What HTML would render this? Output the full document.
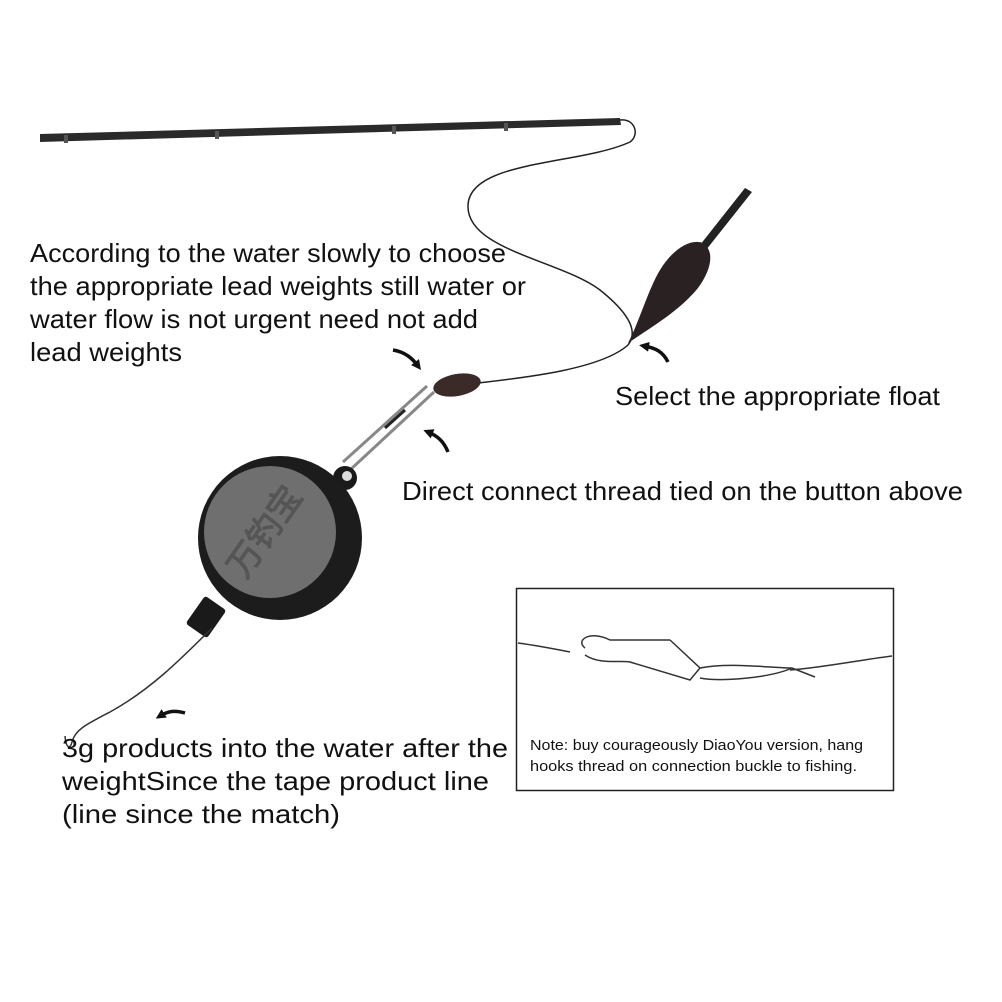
<!DOCTYPE html>
<html><head><meta charset="utf-8"><style>
html,body{margin:0;padding:0;background:#fff;}
svg{display:block;}
text{font-family:"Liberation Sans",sans-serif;fill:#111;}
</style></head><body>
<svg width="1002" height="1002" viewBox="0 0 1002 1002" xmlns="http://www.w3.org/2000/svg">
<defs>
<marker id="ah" markerWidth="10" markerHeight="10" refX="5" refY="5" orient="auto" markerUnits="userSpaceOnUse">
<path d="M0,0 L10,5 L0,10 Z" fill="#111"/></marker>
</defs>
<!-- rod -->
<path d="M40,134 L620,118 L621,125 L40,142 Z" fill="#2a2a2a"/>
<g fill="#555"><rect x="64" y="135" width="4" height="8"/><rect x="215" y="131" width="4" height="8"/><rect x="392" y="126" width="4" height="8"/><rect x="504" y="123" width="4" height="8"/></g>
<!-- line -->
<path d="M620,120 C635,118 640,135 630,142 C580,165 470,160 468,205 C466,250 560,260 600,290 C625,310 640,330 628,345 C600,370 520,378 478,383" fill="none" stroke="#222" stroke-width="1.5"/>
<!-- float -->
<path d="M752,192 L745,188 L700,245 L706,250 Z" fill="#222"/>
<path d="M628,343 C640,320 648,290 660,270 C672,250 690,238 703,243 C716,252 710,272 698,288 C680,310 655,325 628,343 Z" fill="#2a2222"/>
<!-- sinker -->
<ellipse cx="457" cy="385" rx="24" ry="11" transform="rotate(-10 457 385)" fill="#3a2a28"/>
<!-- snap -->
<path d="M434,392 L350,470 M427,386 L343,462" stroke="#888" stroke-width="3" fill="none"/>
<path d="M405,410 L385,428" stroke="#222" stroke-width="3"/>
<circle cx="345" cy="478" r="12" fill="#1a1a1a"/>
<circle cx="347" cy="476" r="5" fill="#ddd"/>
<!-- reel -->
<rect x="193" y="600" width="26" height="34" rx="3" transform="rotate(35 206 617)" fill="#1a1a1a"/>
<circle cx="280" cy="538" r="82" fill="#1c1c1c"/>
<circle cx="270" cy="532" r="66" fill="#6f6f6f"/>
<text x="0" y="0" font-size="34" font-weight="bold" transform="translate(245,580) rotate(-55)" style="fill:#555">万钓宝</text>
<!-- leader & hook -->
<path d="M212,628 C180,660 150,690 110,712 C85,725 75,730 72,742 C70,750 66,748 65,736" fill="none" stroke="#333" stroke-width="1.5"/>
<!-- arrows -->
<path d="M393,350 C405,352 412,358 418,366" fill="none" stroke="#111" stroke-width="3.5" marker-end="url(#ah)"/>
<path d="M448,452 C444,442 438,436 428,432" fill="none" stroke="#111" stroke-width="3.5" marker-end="url(#ah)"/>
<path d="M668,362 C663,352 656,348 644,346" fill="none" stroke="#111" stroke-width="3.5" marker-end="url(#ah)"/>
<path d="M185,713 C175,710 168,711 160,716" fill="none" stroke="#111" stroke-width="3.5" marker-end="url(#ah)"/>
<!-- labels -->
<g font-size="26">
<text x="30" y="262" textLength="476" lengthAdjust="spacingAndGlyphs">According to the water slowly to choose</text>
<text x="30" y="295" textLength="496" lengthAdjust="spacingAndGlyphs">the appropriate lead weights still water or</text>
<text x="30" y="328" textLength="448" lengthAdjust="spacingAndGlyphs">water flow is not urgent need not add</text>
<text x="30" y="361" textLength="152" lengthAdjust="spacingAndGlyphs">lead weights</text>
<text x="615" y="405" textLength="325" lengthAdjust="spacingAndGlyphs">Select the appropriate float</text>
<text x="402" y="500" textLength="561" lengthAdjust="spacingAndGlyphs">Direct connect thread tied on the button above</text>
<text x="62" y="757" textLength="446" lengthAdjust="spacingAndGlyphs">3g products into the water after the</text>
<text x="62" y="790" textLength="427" lengthAdjust="spacingAndGlyphs">weightSince the tape product line</text>
<text x="62" y="823" textLength="278" lengthAdjust="spacingAndGlyphs">(line since the match)</text>
</g>
<!-- note box -->
<rect x="516.5" y="588.5" width="377" height="202" fill="none" stroke="#222" stroke-width="1.5"/>
<path d="M518,643 C540,646 560,650 570,652 M790,670 C820,668 860,660 892,656" fill="none" stroke="#333" stroke-width="1.5"/>
<path d="M585,648 C575,640 590,630 610,640 L670,640 M585,655 C600,665 620,660 630,662 L690,680 L700,668 L670,640 M700,668 C730,662 770,668 792,668 L815,677 M792,668 C770,678 720,682 700,678" fill="none" stroke="#333" stroke-width="1.5"/>
<text x="530" y="750" font-size="15" textLength="333" lengthAdjust="spacingAndGlyphs">Note: buy courageously DiaoYou version, hang</text>
<text x="530" y="771" font-size="15" textLength="327" lengthAdjust="spacingAndGlyphs">hooks thread on connection buckle to fishing.</text>
</svg>
</body></html>
